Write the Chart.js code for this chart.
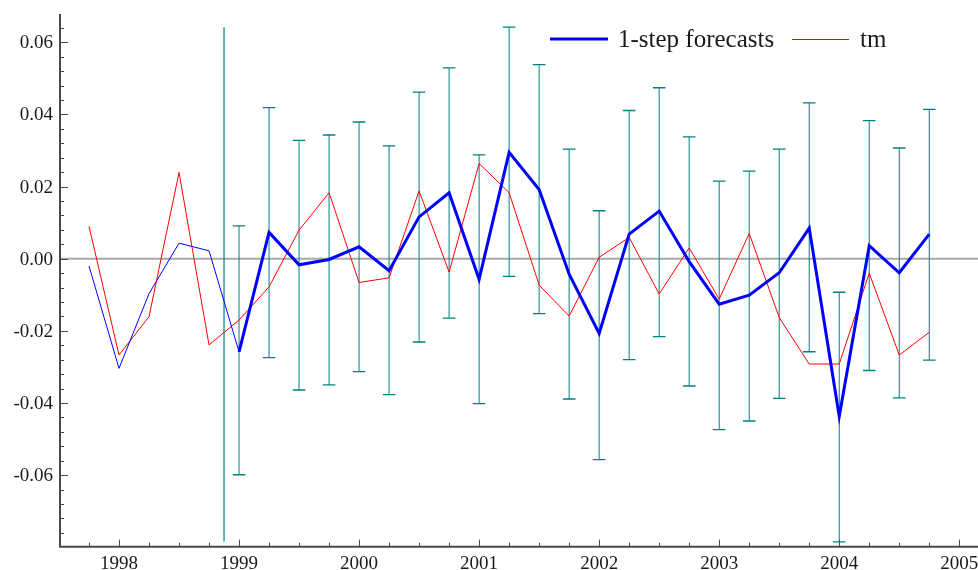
<!DOCTYPE html>
<html>
<head>
<meta charset="utf-8">
<script src="https://cdn.jsdelivr.net/npm/chart.js@4/dist/chart.umd.min.js"></script>
<style>
  html, body { margin: 0; padding: 0; background: #fff; }
  canvas { display: block; }
</style>
</head>
<body>
<canvas id="chart" width="978" height="570"></canvas>
<script>
'use strict'

// quarterly dates, fitted part (thin blue) then 1-step forecasts (thick blue)
const dates = [1997.75, 1998, 1998.25, 1998.5, 1998.75, 1999, 1999.25, 1999.5, 1999.75,
  2000, 2000.25, 2000.5, 2000.75, 2001, 2001.25, 2001.5, 2001.75, 2002, 2002.25, 2002.5,
  2002.75, 2003, 2003.25, 2003.5, 2003.75, 2004, 2004.25, 2004.5, 2004.75]

const tm = [0.0090, -0.0267, -0.0161, 0.0239, -0.0239, -0.0170, -0.0078, 0.0079, 0.0183,
  -0.0066, -0.0053, 0.0188, -0.0037, 0.0264, 0.0183, -0.0073, -0.0159, 0.0004, 0.0059, -0.0098,
  0.0030, -0.0112, 0.0070, -0.0163, -0.0292, -0.0292, -0.0040, -0.0267, -0.0204]

const fittedDates = [1997.75, 1998, 1998.25, 1998.5, 1998.75, 1999]
const fitted = [-0.0020, -0.0304, -0.0097, 0.0043, 0.0022, -0.0258]

const forecastDates = [1999, 1999.25, 1999.5, 1999.75, 2000, 2000.25, 2000.5, 2000.75,
  2001, 2001.25, 2001.5, 2001.75, 2002, 2002.25, 2002.5, 2002.75, 2003, 2003.25, 2003.5,
  2003.75, 2004, 2004.25, 2004.5, 2004.75]
const forecasts = [-0.0258, 0.0073, -0.0017, -0.0002, 0.0033, -0.0033, 0.0116, 0.0183,
  -0.0057, 0.0295, 0.0192, -0.0043, -0.0207, 0.0068, 0.0132, -0.0008, -0.0126, -0.0101, -0.0039,
  0.0085, -0.0437, 0.0036, -0.0039, 0.0068]
const upperBand = [0.0091, 0.0419, 0.0328, 0.0343, 0.0379, 0.0313, 0.0462, 0.0529, 0.0288,
  0.0642, 0.0538, 0.0304, 0.0133, 0.0411, 0.0474, 0.0338, 0.0215, 0.0243, 0.0304, 0.0432,
  -0.0093, 0.0383, 0.0307, 0.0414]
const lowerBand = [-0.0599, -0.0274, -0.0364, -0.0350, -0.0313, -0.0377, -0.0231, -0.0165,
  -0.0402, -0.0049, -0.0152, -0.0389, -0.0557, -0.0280, -0.0216, -0.0353, -0.0474, -0.0450,
  -0.0387, -0.0258, -0.0785, -0.0310, -0.0386, -0.0281]

// vertical line where the forecast period starts
const markerDate = 1998.875
const markerRange = [-0.0784, 0.0642]

const xTicks = [1998, 1999, 2000, 2001, 2002, 2003, 2004, 2005]
const yTicks = [-0.06, -0.04, -0.02, 0, 0.02, 0.04, 0.06]
const yTickLabels = ['-0.06', '-0.04', '-0.02', '0.00', '0.02', '0.04', '0.06']

const legendLabels = ['1-step forecasts', 'tm']

const FONT = '"Liberation Serif", "Times New Roman", serif'
const BLUE = '#0000ff'
const RED = '#ff0000'
const TEAL = '#008080'

// error bars: one line dataset, pairs of points broken up by nulls
const errorBarData = []
forecastDates.forEach((d, i) => {
  errorBarData.push({ x: d, y: lowerBand[i] }, { x: d, y: upperBand[i] }, { x: d, y: null })
})

const zeroLinePlugin = {
  id: 'zeroLine',
  beforeDatasetsDraw (chart) {
    const { ctx, chartArea: { left, right }, scales: { y } } = chart
    const py = y.getPixelForValue(0)
    ctx.save()
    ctx.strokeStyle = '#a8a8a8'
    ctx.lineWidth = 2
    ctx.beginPath()
    ctx.moveTo(left, py)
    ctx.lineTo(right, py)
    ctx.stroke()
    ctx.restore()
  }
}

const axesPlugin = {
  id: 'pcAxes',
  afterDraw (chart) {
    const { ctx, chartArea: { left, right, top, bottom }, scales: { x, y } } = chart
    ctx.save()
    ctx.strokeStyle = '#4a4a4a'
    ctx.lineWidth = 2
    ctx.beginPath()
    ctx.moveTo(left, top)
    ctx.lineTo(left, bottom)
    ctx.lineTo(right, bottom)
    ctx.stroke()

    // inward tick marks, minor ones every 0.004 and every quarter
    ctx.lineWidth = 1
    ctx.beginPath()
    for (let k = -19; k <= 16; k++) {
      const py = Math.round(y.getPixelForValue(k * 0.004)) + 0.5
      const len = k % 5 === 0 ? 8 : 4
      ctx.moveTo(left, py)
      ctx.lineTo(left + len, py)
    }
    for (let q = 0; q <= 30; q++) {
      const v = 1997.75 + q * 0.25
      const px = Math.round(x.getPixelForValue(v)) + 0.5
      if (px > right) { break }
      const len = q % 4 === 1 ? 7 : 4
      ctx.moveTo(px, bottom)
      ctx.lineTo(px, bottom - len)
    }
    ctx.stroke()

    ctx.fillStyle = '#1a1a1a'
    ctx.font = '19px ' + FONT
    ctx.textAlign = 'right'
    ctx.textBaseline = 'middle'
    yTicks.forEach((v, i) => {
      ctx.fillText(yTickLabels[i], left - 7, y.getPixelForValue(v) + 1)
    })
    ctx.textAlign = 'center'
    ctx.textBaseline = 'alphabetic'
    xTicks.forEach((v) => {
      ctx.fillText(String(v), x.getPixelForValue(v), bottom + 22)
    })

    // legend
    ctx.font = '25px ' + FONT
    ctx.textAlign = 'left'
    ctx.lineWidth = 3
    ctx.strokeStyle = BLUE
    ctx.beginPath()
    ctx.moveTo(550, 39)
    ctx.lineTo(608, 39)
    ctx.stroke()
    ctx.fillText(legendLabels[0], 618, 47)
    ctx.lineWidth = 1
    ctx.strokeStyle = RED
    ctx.beginPath()
    ctx.moveTo(792, 39.5)
    ctx.lineTo(849, 39.5)
    ctx.stroke()
    ctx.fillText(legendLabels[1], 860, 47)
    ctx.restore()
  }
}

const ctx = document.getElementById('chart').getContext('2d')
new Chart(ctx, {
  type: 'line',
  data: {
    datasets: [
      {
        label: legendLabels[0],
        data: forecastDates.map((d, i) => ({ x: d, y: forecasts[i] })),
        borderColor: BLUE,
        borderWidth: 3,
        pointRadius: 0,
        tension: 0
      },
      {
        label: 'fitted',
        data: fittedDates.map((d, i) => ({ x: d, y: fitted[i] })),
        borderColor: BLUE,
        borderWidth: 1,
        pointRadius: 0,
        tension: 0
      },
      {
        label: legendLabels[1],
        data: dates.map((d, i) => ({ x: d, y: tm[i] })),
        borderColor: RED,
        borderWidth: 1,
        pointRadius: 0,
        tension: 0
      },
      {
        label: 'bands',
        data: errorBarData,
        borderColor: TEAL,
        borderWidth: 1,
        spanGaps: false,
        pointStyle: 'line',
        pointRadius: 6.3,
        pointBorderWidth: 1.3,
        pointBorderColor: TEAL,
        tension: 0
      },
      {
        label: 'marker',
        data: markerRange.map((v) => ({ x: markerDate, y: v })),
        borderColor: TEAL,
        borderWidth: 1.2,
        pointRadius: 0
      }
    ]
  },
  options: {
    responsive: false,
    animation: false,
    events: [],
    layout: {
      autoPadding: false,
      padding: { left: 60, top: 14, right: 0, bottom: 23.3 }
    },
    plugins: {
      legend: { display: false },
      tooltip: { enabled: false }
    },
    scales: {
      x: {
        type: 'linear',
        min: 1997.5085,
        max: 2005.156,
        display: false
      },
      y: {
        type: 'linear',
        min: -0.07985,
        max: 0.06785,
        display: false
      }
    }
  },
  plugins: [zeroLinePlugin, axesPlugin]
})
</script>
</body>
</html>
